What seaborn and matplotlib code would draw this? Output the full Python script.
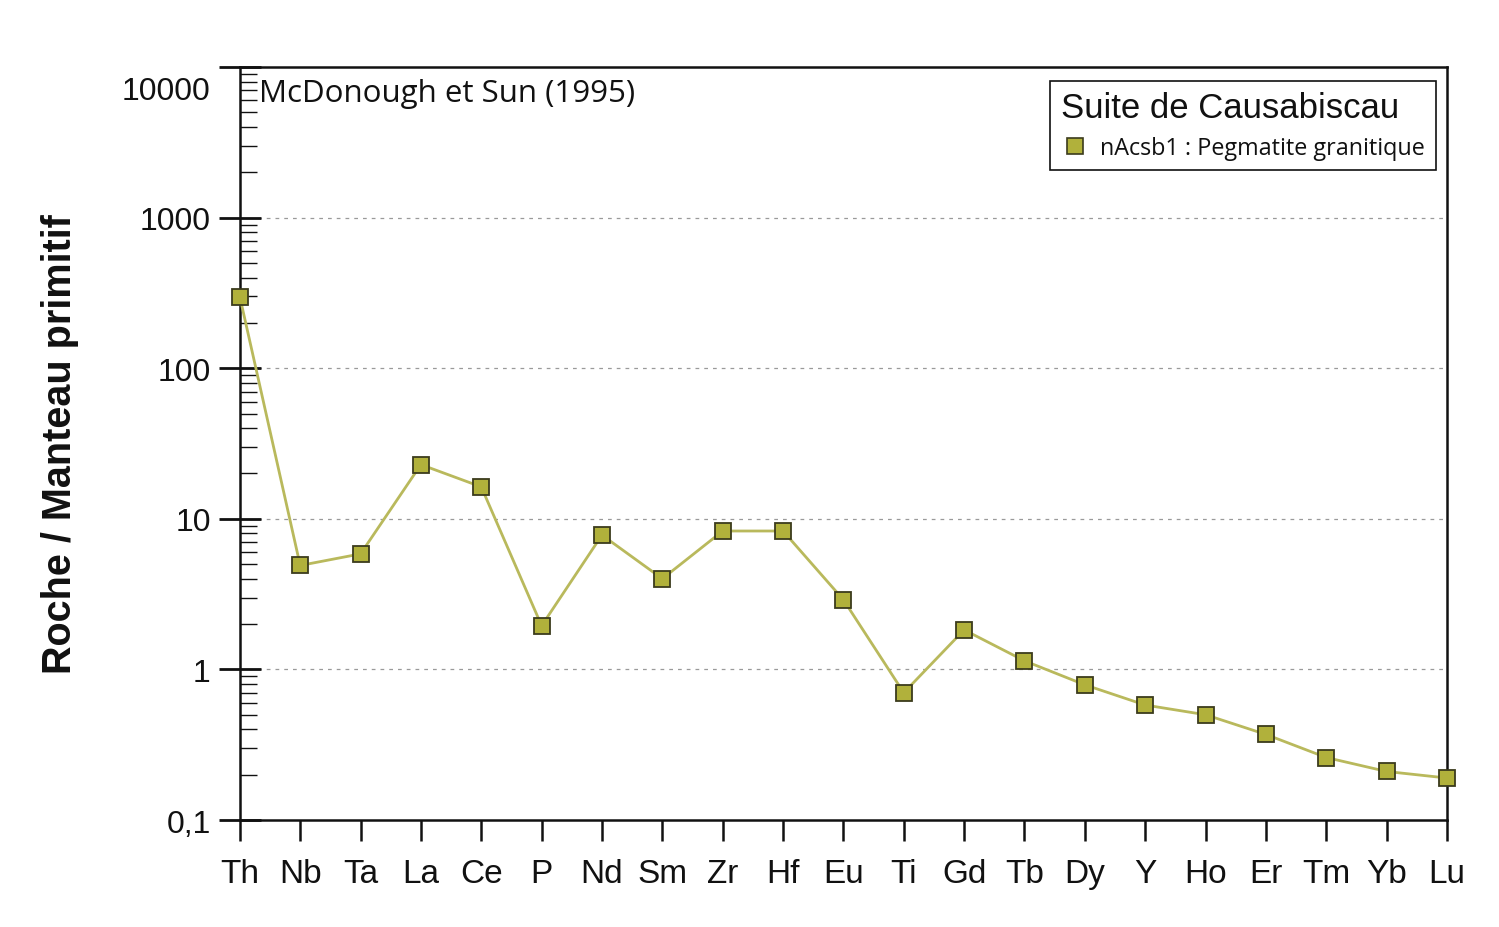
import matplotlib

matplotlib.use("Agg")

import matplotlib.pyplot as plt
import pandas as pd
import seaborn as sns
from matplotlib.lines import Line2D
from matplotlib.ticker import FixedLocator, LogLocator, NullFormatter

# spider diagram values, normalised to primitive mantle
elements = ["Th", "Nb", "Ta", "La", "Ce", "P", "Nd", "Sm", "Zr", "Hf", "Eu",
            "Ti", "Gd", "Tb", "Dy", "Y", "Ho", "Er", "Tm", "Yb", "Lu"]
values = [298, 4.9, 5.85, 22.9, 16.3, 1.95, 7.8, 4.0, 8.3, 8.3, 2.9,
          0.70, 1.83, 1.14, 0.79, 0.58, 0.50, 0.37, 0.26, 0.21, 0.19]
y_ticks = [0.1, 1, 10, 100, 1000, 10000]
y_tick_labels = ["0,1", "1", "10", "100", "1000", "10000"]

sample_name = "nAcsb1 : Pegmatite granitique"
suite_name = "Suite de Causabiscau"
reference = "McDonough et Sun (1995)"

FILL = "#b1b13b"
EDGE = "#3b3b1c"
LINE = "#b9b95c"
INK = "#111111"

sns.set_style("white")
plt.rcParams["font.family"] = ["Liberation Sans", "DejaVu Sans"]
plt.rcParams["text.color"] = INK
plt.rcParams["axes.labelcolor"] = INK
plt.rcParams["xtick.color"] = INK
plt.rcParams["ytick.color"] = INK

df = pd.DataFrame({"pos": range(len(elements)), "Element": elements, "Value": values})

fig = plt.figure(figsize=(14.99, 9.28), dpi=100)
ax = fig.add_axes([0.160, 0.1153, 0.8053, 0.8114])

sns.lineplot(data=df, x="pos", y="Value", ax=ax, color=LINE, linewidth=2,
             marker="s", markersize=11.5, markerfacecolor=FILL,
             markeredgecolor=EDGE, markeredgewidth=1.3, sort=False, clip_on=False,
             zorder=5)

ax.set_yscale("log")
ax.set_ylim(0.1, 10000)
ax.set_xlim(0, len(elements) - 1)

ax.yaxis.set_major_locator(FixedLocator(y_ticks))
# the top label sits a little below its tick in the original, so it is drawn apart
ax.set_yticklabels(y_tick_labels[:-1] + [""])
ax.annotate(y_tick_labels[-1], xy=(0, y_ticks[-1]), xycoords=("axes fraction", "data"),
            xytext=(-21, -17), textcoords="offset points", ha="right", va="center",
            fontsize=23)
ax.yaxis.set_minor_locator(LogLocator(base=10, subs=range(2, 10)))
ax.yaxis.set_minor_formatter(NullFormatter())
ax.set_xticks(df["pos"])
ax.set_xticklabels(elements)

for y in y_ticks[1:-1]:
    ax.axhline(y, color="#9a9a9a", linestyle=(0, (3, 4)), linewidth=0.9, zorder=0)

for spine in ax.spines.values():
    spine.set_linewidth(1.8)
    spine.set_color(INK)

ax.tick_params(axis="y", which="major", direction="inout", length=30, width=2,
               labelsize=23, pad=6, left=True)
ax.tick_params(axis="y", which="minor", direction="in", length=12, width=1,
               left=True)
ax.tick_params(axis="x", which="major", direction="out", length=15, width=1.8,
               labelsize=24, pad=12, bottom=True)

ax.set_xlabel("")
ax.set_ylabel("Roche / Manteau primitif", fontsize=28.5, fontweight="bold", labelpad=44)

ax.text(0.016, 0.985, reference, transform=ax.transAxes, fontsize=22.5,
        family=["Open Sans", "DejaVu Sans"], va="top", ha="left")

handle = Line2D([], [], linestyle="none", marker="s", markersize=11,
                markerfacecolor=FILL, markeredgecolor=EDGE, markeredgewidth=1.2)
leg = ax.legend([handle], [sample_name], title=suite_name, loc="upper right",
                bbox_to_anchor=(0.9905, 0.982), frameon=True, fancybox=False,
                edgecolor=INK, framealpha=1, borderpad=0.45,
                handletextpad=0.5, handlelength=1.2, borderaxespad=0,
                prop={"family": ["Open Sans", "DejaVu Sans"], "size": 16.8},
                title_fontsize=25, alignment="left")
leg.get_frame().set_linewidth(1.2)
leg.get_title().set_color(INK)

fig.savefig("out.png", dpi=100)
